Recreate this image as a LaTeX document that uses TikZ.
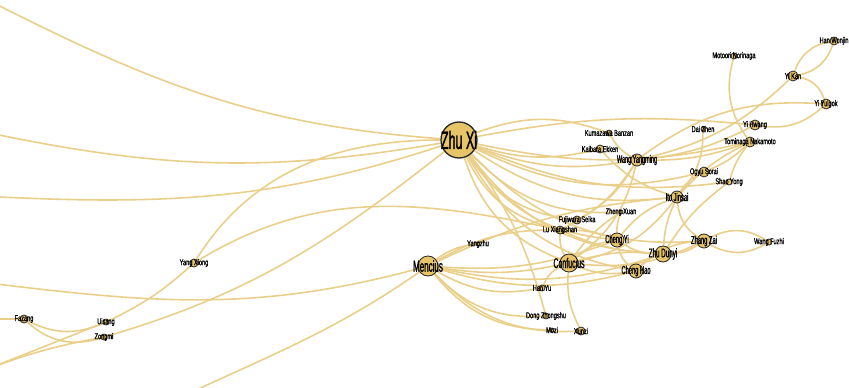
\documentclass[tikz,border=0pt]{standalone}
\usepackage{fontspec}
\usepackage{xcolor}
\usepackage{tikz}
\newfontfamily\bigfont[FakeStretch=0.5, FakeBold=1.2]{Liberation Sans}
\newfontfamily\smallfont[FakeStretch=0.66, FakeBold=1]{Liberation Sans}
\definecolor{zxgold}{RGB}{232,196,104}
\definecolor{zxlink}{RGB}{234,207,138}
\pgfdeclarelayer{edges}
\pgfsetlayers{edges,main}

\begin{document}
\begin{tikzpicture}[
    x=1pt, y=1pt, yscale=-1,
    person/.style={circle, draw=black!85, line width=0.8pt, fill=zxgold, inner sep=0pt, minimum size=#1},
    bigtag/.style={font=\bigfont\fontsize{#1}{#1}\selectfont, inner sep=0pt},
    tag/.style={font=\smallfont\fontsize{8.5}{8.5}\selectfont, inner sep=0pt},
    link/.style={draw=zxlink, line width=1.6pt}
]
    \useasboundingbox (0,0) rectangle (849,388);

    % main figures
    \node[person=36pt, line width=1.3pt, label={[bigtag=25]center:Zhu Xi}] (zhuxi) at (459,140) {};
    \node[person=20pt, label={[bigtag=16]center:Mencius}] (mencius) at (428,266) {};
    \node[person=18pt, label={[bigtag=14]center:Confucius}] (confucius) at (569,263) {};
    \node[person=16pt, label={[bigtag=12.5]center:Zhu Dunyi}] (zhudunyi) at (663,254) {};
    \node[person=14pt, label={[bigtag=11.5]center:Cheng Yi}] (chengyi) at (617,240) {};
    \node[person=14pt, label={[bigtag=11.5]center:Cheng Hao}] (chenghao) at (636,271) {};
    \node[person=14pt, label={[bigtag=11.5]center:Zhang Zai}] (zhangzai) at (704,241) {};
    \node[person=12pt, label={[bigtag=11.5]center:Ito Jinsai}] (itojinsai) at (677,197) {};
    \node[person=12pt, label={[bigtag=11]center:Wang Yangming}] (wangyangming) at (637,160) {};

    % smaller figures
    \node[person=6pt, label={[tag]center:Kumazawa Banzan}] (kumazawa) at (609,133) {};
    \node[person=8pt, label={[tag]center:Kaibara Ekken}] (kaibara) at (600,149) {};
    \node[person=4pt, label={[tag]center:Zheng Xuan}] (zhengxuan) at (621,212) {};
    \node[person=8pt, label={[tag]center:Fujiwara Seika}] (fujiwara) at (577,220) {};
    \node[person=8pt, label={[tag]center:Lu Xiangshan}] (luxiangshan) at (560,230) {};
    \node[person=10pt, label={[tag]center:Ogyu Sorai}] (ogyusorai) at (704,172) {};
    \node[person=6pt, label={[tag]center:Shao Yong}] (shaoyong) at (729,182) {};
    \node[person=4pt, label={[tag]center:Dai Zhen}] (daizhen) at (703,129) {};
    \node[person=10pt, label={[tag]center:Yi Hwang}] (yihwang) at (755,125) {};
    \node[person=10pt, label={[tag]center:Tominaga Nakamoto}] (tominaga) at (750,142) {};
    \node[person=6pt, label={[tag]center:Motoori Norinaga}] (motoori) at (734,56) {};
    \node[person=10pt, label={[tag]center:Yi Kan}] (yikan) at (793,76) {};
    \node[person=8pt, label={[tag]center:Han Wonjin}] (hanwonjin) at (834,41) {};
    \node[person=10pt, label={[tag]center:Yi Yulgok}] (yiyulgok) at (826,104) {};
    \node[person=6pt, label={[tag]center:Wang Fuzhi}] (wangfuzhi) at (769,242) {};
    \node[person=4pt, label={[tag]center:Yangzhu}] (yangzhu) at (478,244) {};
    \node[person=6pt, label={[tag]center:Han Yu}] (hanyu) at (542,288) {};
    \node[person=6pt, label={[tag]center:Dong Zhongshu}] (dongzhongshu) at (546,316) {};
    \node[person=4pt, label={[tag]center:Mozi}] (mozi) at (552,330) {};
    \node[person=8pt, label={[tag]center:Xunzi}] (xunzi) at (581,331) {};
    \node[person=8pt, label={[tag]center:Yang Xiong}] (yangxiong) at (194,263) {};
    \node[person=8pt, label={[tag]center:Fazang}] (fazang) at (24,319) {};
    \node[person=6pt, label={[tag]center:Uisang}] (uisang) at (106,322) {};
    \node[person=6pt, label={[tag]center:Zongmi}] (zongmi) at (104,337) {};

    % ends of links that leave the picture
    \coordinate (offnw) at (-20,-4);
    \coordinate (offw) at (-20,131);
    \coordinate (offwsw) at (-20,196);
    \coordinate (offsw) at (-15,370);
    \coordinate (offfz) at (-15,319);
    \coordinate (offml) at (-20,282);
    \coordinate (offms) at (170,402);

    \begin{pgfonlayer}{edges}
    \clip (0,0) rectangle (849,388);
    % links on the left
    \draw[link] (zhuxi) to[out=-175, in=27] (offnw);
    \draw[link] (zhuxi) to[out=168, in=12] (offw);
    \draw[link] (zhuxi) to[out=158, in=3] (offwsw);
    \draw[link] (yangxiong) to[out=-60, in=180] (zhuxi);
    \draw[link] (yangxiong) to[out=-33, in=-167] (luxiangshan);
    \draw[link] (uisang) to[bend left=8] (yangxiong);
    \draw[link] (offsw) -- (uisang);
    \draw[link] (offsw) to[bend right=5] (zongmi);
    \draw[link] (zongmi) to[out=-17, in=135] (zhuxi);
    \draw[link] (fazang) to[bend left=25] (uisang);
    \draw[link] (fazang) to[bend left=30] (zongmi);
    \draw[link] (offfz) -- (fazang);
    \draw[link] (mencius) to[out=163, in=7] (offml);
    \draw[link] (mencius) to[out=140, in=-25] (offms);

    % Zhu Xi
    \draw[link] (zhuxi) to[bend right=20] (kumazawa);
    \draw[link] (zhuxi) to[bend left=15] (kaibara);
    \draw[link] (zhuxi) to[bend left=15] (wangyangming);
    \draw[link] (zhuxi) to[bend left=20] (itojinsai);
    \draw[link] (zhuxi) to[bend left=20] (ogyusorai);
    \draw[link] (zhuxi) to[bend left=12] (tominaga);
    \draw[link] (zhuxi) to[bend right=8] (yihwang);
    \draw[link] (zhuxi) to[bend left=25] (zhengxuan);
    \draw[link] (zhuxi) to[bend left=25] (fujiwara);
    \draw[link] (zhuxi) to[bend left=25] (luxiangshan);
    \draw[link] (zhuxi) to[bend left=25] (chengyi);
    \draw[link] (zhuxi) to[bend left=25] (chenghao);
    \draw[link] (zhuxi) to[bend left=25] (zhudunyi);
    \draw[link] (zhuxi) to[bend left=25] (zhangzai);
    \draw[link] (zhuxi) to[bend left=25] (confucius);
    \draw[link] (zhuxi) to[bend right=10] (dongzhongshu);
    \draw[link] (zhuxi) to[bend left=15] (shaoyong);

    % Mencius
    \draw[link] (mencius) to[bend right=15] (yangzhu);
    \draw[link] (mencius) to[bend right=15] (luxiangshan);
    \draw[link] (mencius) to[bend left=10] (confucius);
    \draw[link] (mencius) to[bend left=12] (chengyi);
    \draw[link] (mencius) to[bend left=15] (chenghao);
    \draw[link] (mencius) to[bend left=15] (zhudunyi);
    \draw[link] (mencius) to[bend left=20] (hanyu);
    \draw[link] (mencius) to[bend left=25] (dongzhongshu);
    \draw[link] (mencius) to[bend left=25] (mozi);
    \draw[link] (mencius) to[bend left=25] (xunzi);
    \draw[link] (mencius) to[bend right=10] (itojinsai);

    % Confucius
    \draw[link] (confucius) to[bend left=20] (hanyu);
    \draw[link] (confucius) to[bend left=15] (xunzi);
    \draw[link] (confucius) to[bend right=15] (luxiangshan);
    \draw[link] (confucius) to[bend right=15] (chengyi);
    \draw[link] (confucius) to[bend left=15] (chenghao);
    \draw[link] (confucius) to[bend right=10] (zhudunyi);
    \draw[link] (confucius) to[bend left=15] (zhangzai);
    \draw[link] (confucius) to[bend left=20] (itojinsai);
    \draw[link] (confucius) to[bend left=20] (wangyangming);
    \draw[link] (confucius) to[bend right=10] (zhengxuan);

    % Song masters
    \draw[link] (luxiangshan) to[bend left=15] (wangyangming);
    \draw[link] (luxiangshan) to[bend right=10] (chengyi);
    \draw[link] (luxiangshan) to[bend left=10] (zhudunyi);
    \draw[link] (fujiwara) to[bend left=15] (wangyangming);
    \draw[link] (zhengxuan) to[bend left=10] (chengyi);
    \draw[link] (chengyi) to[bend left=20] (chenghao);
    \draw[link] (chengyi) to[bend left=15] (zhudunyi);
    \draw[link] (chenghao) to[bend right=15] (zhudunyi);
    \draw[link] (chengyi) to[bend right=15] (itojinsai);
    \draw[link] (zhudunyi) to[bend right=10] (itojinsai);
    \draw[link] (zhudunyi) to[bend left=15] (zhangzai);
    \draw[link] (chenghao) to[bend right=20] (zhangzai);
    \draw[link] (itojinsai) to[bend left=25] (zhangzai);
    \draw[link] (zhangzai) to[bend left=30] (wangfuzhi);
    \draw[link] (zhangzai) to[bend right=30] (wangfuzhi);

    % Japan and Korea
    \draw[link] (itojinsai) to[bend right=15] (ogyusorai);
    \draw[link] (itojinsai) to[bend left=20] (daizhen);
    \draw[link] (itojinsai) to[bend right=10] (tominaga);
    \draw[link] (ogyusorai) to[bend left=10] (tominaga);
    \draw[link] (shaoyong) to[bend right=10] (tominaga);
    \draw[link] (shaoyong) to[bend left=10] (zhudunyi);
    \draw[link] (kumazawa) to[bend left=15] (wangyangming);
    \draw[link] (kaibara) to[bend left=15] (itojinsai);
    \draw[link] (wangyangming) to[bend left=10] (yihwang);
    \draw[link] (wangyangming) to[bend left=15] (yikan);
    \draw[link] (wangyangming) to[bend right=20] (yiyulgok);
    \draw[link] (wangyangming) to[bend left=10] (tominaga);
    \draw[link] (yihwang) to[bend left=25] (yiyulgok);
    \draw[link] (yikan) to[bend right=30] (yiyulgok);
    \draw[link] (yikan) to[bend left=30] (hanwonjin);
    \draw[link] (yikan) to[bend right=30] (hanwonjin);
    \draw[link] (motoori) to[bend left=25] (tominaga);
    \end{pgfonlayer}
\end{tikzpicture}
\end{document}
